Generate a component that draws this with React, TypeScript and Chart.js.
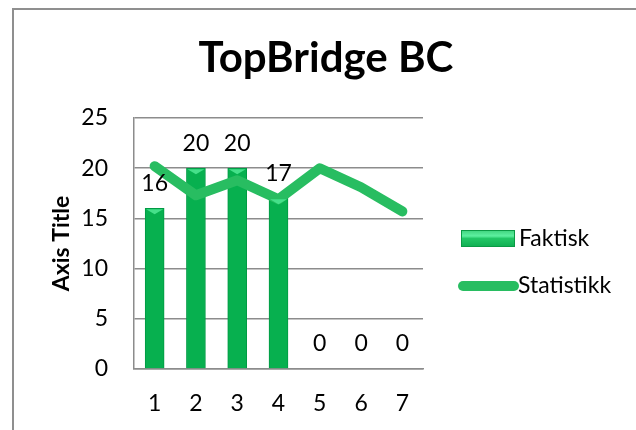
import React, { useEffect, useRef } from "react";
import { Chart, registerables } from "chart.js";
Chart.register(...registerables);

const categories = ["1", "2", "3", "4", "5", "6", "7"];
const faktisk = [16, 20, 20, 17, 0, 0, 0];
const statistikk = [20.2, 17.3, 18.8, 16.9, 20, 18.1, 15.7];
const yTicks = [0, 5, 10, 15, 20, 25];
const titleText = "TopBridge BC";
const axisTitleText = "Axis Title";
const seriesNames = ["Faktisk", "Statistikk"];

const FONT = "Lato, 'Open Sans', sans-serif";
const BAR_COLOR = "#07b04f";
const LINE_COLOR = "#28bd61";
const GRID = "#8c8c8c";
const TXT = 23;

const decorPlugin = {
  id: "decor",
  afterDatasetsDraw(chart: any) {
    const ctx = chart.ctx;
    const barMeta = chart.getDatasetMeta(0);
    ctx.save();
    barMeta.data.forEach((el: any, i: number) => {
      const v = faktisk[i];
      if (!v) return;
      const w = el.width;
      ctx.fillStyle = "#45e08a";
      ctx.beginPath();
      ctx.moveTo(el.x - w / 2 + 1, el.y + 1);
      ctx.lineTo(el.x + w / 2 - 1, el.y + 1);
      ctx.lineTo(el.x, el.y + 6);
      ctx.closePath();
      ctx.fill();
    });
    ctx.fillStyle = "#000";
    ctx.font = `${TXT}px ${FONT}`;
    ctx.textAlign = "center";
    ctx.textBaseline = "middle";
    barMeta.data.forEach((el: any, i: number) => {
      ctx.fillText(String(faktisk[i]), el.x, el.y - 25);
    });
    ctx.restore();
  },
  afterDraw(chart: any) {
    const ctx = chart.ctx;
    ctx.save();
    ctx.fillStyle = "#000";
    ctx.font = `bold 42px ${FONT}`;
    ctx.textAlign = "center";
    ctx.textBaseline = "alphabetic";
    ctx.fillText(titleText, 326, 72);
    const g = ctx.createLinearGradient(0, 230, 0, 247);
    g.addColorStop(0, "#3ed27c");
    g.addColorStop(0.35, "#5df0a0");
    g.addColorStop(0.5, "#22c766");
    g.addColorStop(1, "#0fae52");
    ctx.fillStyle = g;
    ctx.fillRect(461, 230, 54, 17);
    ctx.strokeStyle = "#0a9a45";
    ctx.lineWidth = 1;
    ctx.strokeRect(461.5, 230.5, 53, 16);
    ctx.strokeStyle = LINE_COLOR;
    ctx.lineWidth = 10;
    ctx.lineCap = "round";
    ctx.beginPath();
    ctx.moveTo(463, 286);
    ctx.lineTo(514, 286);
    ctx.stroke();
    ctx.fillStyle = "#000";
    ctx.font = `${TXT}px ${FONT}`;
    ctx.textAlign = "left";
    ctx.textBaseline = "middle";
    ctx.fillText(seriesNames[0], 519, 239);
    ctx.fillText(seriesNames[1], 518, 286);
    ctx.restore();
  },
};

export default function App() {
  const ref = useRef<HTMLCanvasElement | null>(null);
  useEffect(() => {
    if (!ref.current) return;
    const chart = new Chart(ref.current, {
      type: "bar",
      data: {
        labels: categories,
        datasets: [
          {
            type: "bar",
            label: seriesNames[0],
            data: faktisk,
            backgroundColor: BAR_COLOR,
            borderColor: "#009a44",
            borderWidth: 1,
            barThickness: 19,
            order: 1,
          },
          {
            type: "line",
            label: seriesNames[1],
            data: statistikk,
            borderColor: LINE_COLOR,
            borderWidth: 10,
            borderCapStyle: "round",
            borderJoinStyle: "round",
            pointRadius: 0,
            tension: 0,
            fill: false,
            order: 0,
          } as any,
        ],
      },
      options: {
        responsive: false,
        animation: false,
        devicePixelRatio: 1,
        layout: { padding: { top: 118, right: 213, bottom: 0, left: 0 } },
        plugins: { legend: { display: false }, title: { display: false }, tooltip: { enabled: false } },
        scales: {
          x: {
            grid: { display: false, drawTicks: false },
            border: { color: GRID, width: 1.5 },
            ticks: { color: "#000", font: { family: FONT, size: TXT }, padding: 21 },
            afterFit: (s: any) => {
              s.height = 61;
            },
          },
          y: {
            min: 0,
            max: 25,
            afterBuildTicks: (s: any) => {
              s.ticks = yTicks.map((v) => ({ value: v }));
            },
            grid: { color: GRID, lineWidth: 1.5, drawTicks: false },
            border: { color: GRID, width: 1.5 },
            ticks: { color: "#000", font: { family: FONT, size: TXT }, padding: 26 },
            title: {
              display: true,
              text: axisTitleText,
              color: "#000",
              font: { family: FONT, size: 23, weight: "bold" },
              padding: { top: 48, bottom: 0 },
            },
            afterFit: (s: any) => {
              s.width = 134;
            },
          },
        },
      } as any,
      plugins: [decorPlugin],
    });
    return () => chart.destroy();
  }, []);
  return (
    <div style={{ position: "fixed", left: 0, top: 0, width: 636, height: 430, overflow: "hidden", background: "#fff" }}>
      <div
        style={{
          position: "absolute",
          left: 12,
          top: 8,
          width: 700,
          height: 500,
          border: "2px solid #8f8f8f",
          boxSizing: "border-box",
        }}
      />
      <canvas ref={ref} width={636} height={430} style={{ position: "absolute", left: 0, top: 0, width: 636, height: 430 }} />
    </div>
  );
}
